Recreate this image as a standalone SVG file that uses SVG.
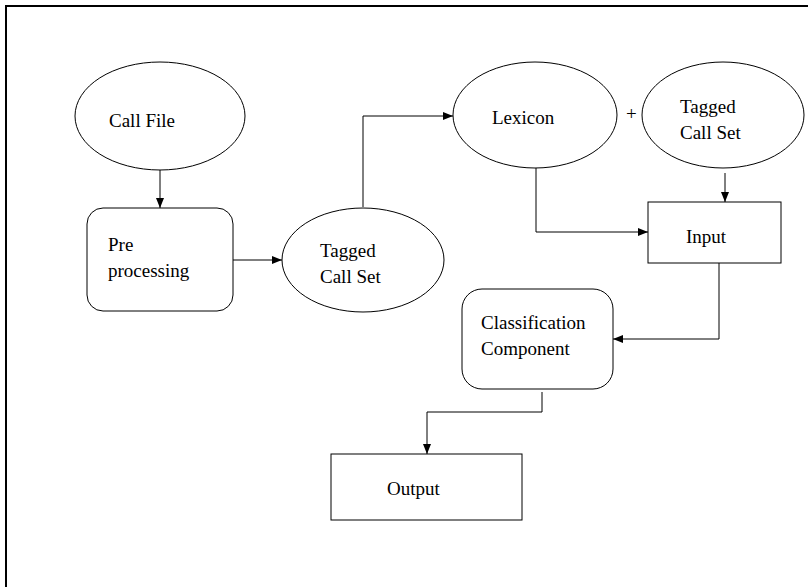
<svg xmlns="http://www.w3.org/2000/svg" width="808" height="587" viewBox="0 0 808 587">
<style>
.shape{fill:#fff;stroke:#000;stroke-width:1}
.conn{fill:none;stroke:#000;stroke-width:1}
text{font-family:"Liberation Serif","Times New Roman",serif;font-size:19px;fill:#000}
</style>
<defs>
<marker id="arr" viewBox="0 0 10 10" refX="10" refY="5" markerWidth="10" markerHeight="10" markerUnits="userSpaceOnUse" orient="auto">
<path d="M0,1 L10,5 L0,9 Z" fill="#000"/>
</marker>
</defs>
<rect width="808" height="587" fill="#fff"/>
<path d="M6,587 V6 H808" fill="none" stroke="#000" stroke-width="2"/>
<g id="connectors">
<path class="conn" d="M160,170 V208" marker-end="url(#arr)"/>
<path class="conn" d="M233,260 H282" marker-end="url(#arr)"/>
<path class="conn" d="M363,207 V116 H453" marker-end="url(#arr)"/>
<path class="conn" d="M725,173 V202" marker-end="url(#arr)"/>
<path class="conn" d="M536,168 V232 H648" marker-end="url(#arr)"/>
<path class="conn" d="M719,263 V339 H613" marker-end="url(#arr)"/>
<path class="conn" d="M542,392 V412 H427 V454" marker-end="url(#arr)"/>
</g>
<g id="callfile">
<ellipse class="shape" cx="160" cy="116" rx="85" ry="54"/>
<text x="109" y="127">Call File</text>
</g>
<g id="preprocessing">
<rect class="shape" x="87" y="208" width="146" height="103" rx="16"/>
<text x="108" y="251">Pre</text>
<text x="108" y="277">processing</text>
</g>
<g id="tagged1">
<ellipse class="shape" cx="363" cy="260" rx="81" ry="52"/>
<text x="320" y="257">Tagged</text>
<text x="320" y="283">Call Set</text>
</g>
<g id="lexicon">
<ellipse class="shape" cx="535" cy="115" rx="82" ry="53"/>
<text x="492" y="124">Lexicon</text>
</g>
<text x="626" y="120">+</text>
<g id="tagged2">
<ellipse class="shape" cx="723" cy="115" rx="81" ry="53"/>
<text x="680" y="113">Tagged</text>
<text x="680" y="139">Call Set</text>
</g>
<g id="input">
<rect class="shape" x="648" y="202" width="133" height="61"/>
<text x="686" y="243">Input</text>
</g>
<g id="classification">
<rect class="shape" x="462" y="289" width="151" height="100" rx="20"/>
<text x="481" y="329">Classification</text>
<text x="481" y="355">Component</text>
</g>
<g id="output">
<rect class="shape" x="331" y="454" width="191" height="66"/>
<text x="387" y="495">Output</text>
</g>
</svg>
